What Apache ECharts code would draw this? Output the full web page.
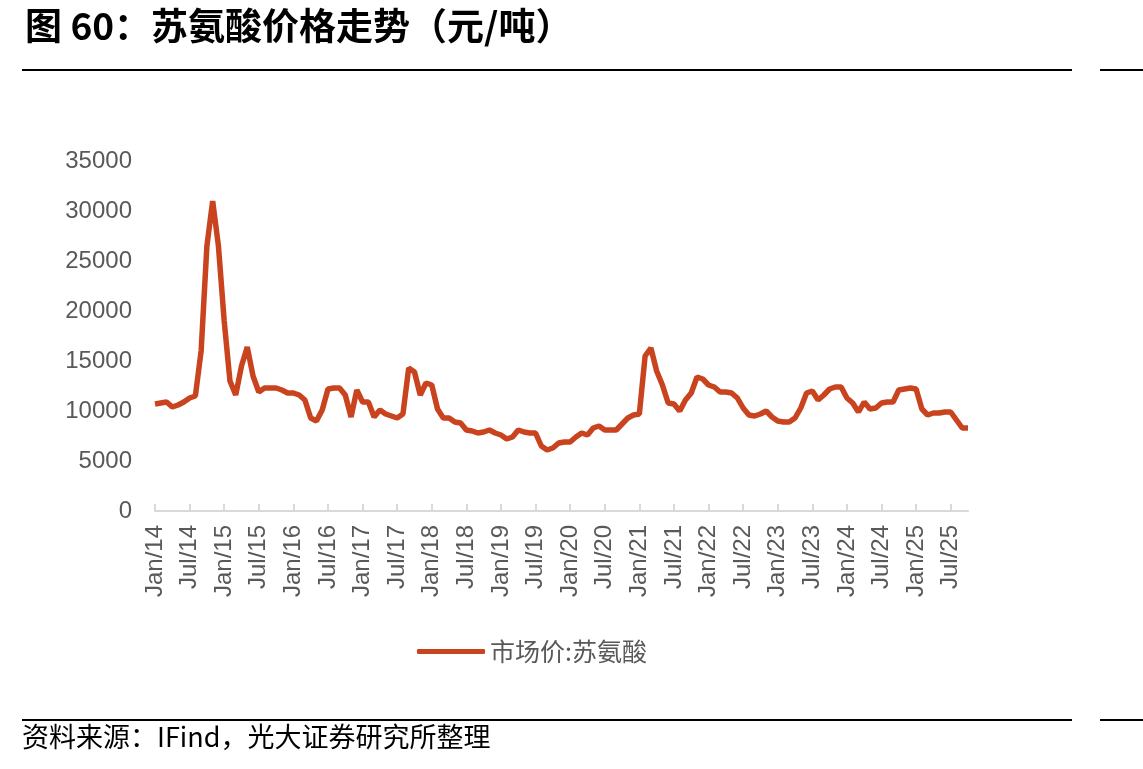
<!DOCTYPE html>
<html><head><meta charset="utf-8">
<script src="https://cdn.jsdelivr.net/npm/echarts@6/dist/echarts.min.js"></script>
<style>html,body{margin:0;padding:0;background:#fff}#c{width:1143px;height:769px}</style>
</head><body><div id="c"></div>
<script>
// monthly categories Jan/14 .. Oct/25
const monthNames = ['Jan','Feb','Mar','Apr','May','Jun','Jul','Aug','Sep','Oct','Nov','Dec'];
const categories = [];
for (let y = 14; y <= 25; y++) {
  for (let m = 0; m < 12; m++) {
    if (y === 25 && m > 9) break;
    categories.push(monthNames[m] + '/' + y);
  }
}
const yTicks = [0, 5000, 10000, 15000, 20000, 25000, 30000, 35000];
const seriesName = '市场价:苏氨酸';
const prices = [
  10700,10800,10900,10400,10600,10900,11300,11500,16000,26500,31000,26500,
  19000,13000,11600,14500,16400,13500,11900,12300,12300,12300,12100,11800,
  11800,11600,11100,9300,9000,10100,12200,12300,12300,11600,9400,12100,
  10900,10900,9400,10100,9700,9500,9300,9700,14300,13900,11600,12800,
  12600,10200,9300,9300,8900,8800,8100,8000,7800,7900,8100,7800,
  7600,7200,7400,8100,7900,7800,7800,6500,6100,6300,6800,6900,
  6900,7400,7800,7600,8300,8500,8100,8100,8100,8700,9300,9600,
  9700,15500,16300,14000,12600,10800,10700,10000,11100,11800,13400,13200,
  12600,12400,11900,11900,11800,11300,10300,9600,9500,9700,10000,9400,
  9000,8900,8900,9300,10300,11800,12000,11100,11600,12200,12400,12400,
  11300,10800,9900,10900,10200,10300,10800,10900,10900,12100,12200,12300,
  12200,10200,9600,9800,9800,9900,9900,9100,8300,8300
];

const chart = echarts.init(document.getElementById('c'), null, {renderer: 'canvas'});
const axisFont = 'Liberation Sans, Arial, sans-serif';
chart.setOption({
  animation: false,
  title: {
    text: '图 60：苏氨酸价格走势（元/吨）',
    left: 20, top: 2,
    textStyle: {fontFamily: 'Noto Sans CJK SC', fontWeight: 'bold', fontSize: 37, color: '#000'}
  },
  graphic: [
    {type: 'line', shape: {x1: 22, y1: 70, x2: 1072, y2: 70}, style: {stroke: '#000', lineWidth: 2}},
    {type: 'line', shape: {x1: 1100, y1: 70, x2: 1143, y2: 70}, style: {stroke: '#000', lineWidth: 2}},
    {type: 'line', shape: {x1: 22, y1: 720, x2: 1072, y2: 720}, style: {stroke: '#000', lineWidth: 2}},
    {type: 'line', shape: {x1: 1100, y1: 720, x2: 1143, y2: 720}, style: {stroke: '#000', lineWidth: 2}},
    {type: 'text', left: 22, top: 723, style: {text: '资料来源：IFind，光大证券研究所整理', font: '27px "Noto Sans CJK SC"', fill: '#000'}}
  ],
  legend: {
    data: [seriesName],
    left: 412, top: 634,
    itemWidth: 68, itemHeight: 5, itemGap: 4,
    icon: 'roundRect',
    textStyle: {fontFamily: 'Noto Sans CJK SC', fontSize: 25, color: '#595959'}
  },
  grid: {left: 155, right: 175, top: 161, bottom: 258, containLabel: false},
  xAxis: {
    type: 'category',
    data: categories,
    boundaryGap: false,
    axisLine: {lineStyle: {color: '#d9d9d9', width: 2}},
    axisTick: {inside: true, length: 7, interval: 5, lineStyle: {color: '#d9d9d9', width: 2}},
    axisLabel: {interval: 5, rotate: 90, color: '#595959', fontSize: 24, fontFamily: axisFont, margin: 14}
  },
  yAxis: {
    type: 'value',
    min: yTicks[0], max: yTicks[yTicks.length - 1], interval: 5000,
    axisLine: {show: false}, axisTick: {show: false},
    splitLine: {show: false},
    axisLabel: {color: '#595959', fontSize: 24, fontFamily: axisFont, margin: 23, formatter: v => String(v)}
  },
  series: [{
    name: seriesName,
    type: 'line',
    data: prices,
    showSymbol: false,
    symbol: 'none',
    lineStyle: {color: '#C9431F', width: 5.5},
    itemStyle: {color: '#C9431F'}
  }]
});
</script></body></html>
